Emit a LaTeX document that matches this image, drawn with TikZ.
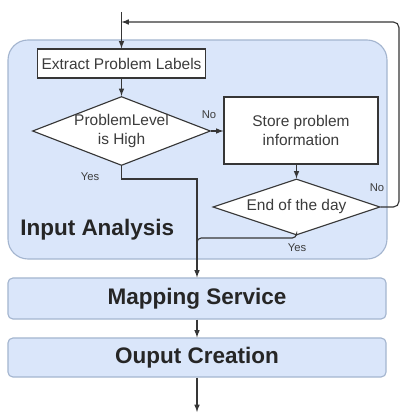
\documentclass[tikz,border=0pt]{standalone}
\usepackage{fontspec}
\setmainfont{Liberation Sans}
\usepackage{tikz}
\usetikzlibrary{shapes.geometric}
\definecolor{regionfill}{HTML}{DAE6FA}
\definecolor{regionline}{HTML}{A4B5CF}
\definecolor{flowline}{HTML}{363636}
\definecolor{flowtext}{HTML}{3C3C3C}
\tikzset{
  >=latex,
  procbox/.style={draw=flowline,fill=white,line width=0.8pt,inner sep=0pt,font=\fontsize{11}{13.5}\selectfont,text=flowtext,align=center},
  decision/.style={diamond,draw=flowline,fill=white,line width=0.8pt,inner sep=-3pt,font=\fontsize{11}{13.5}\selectfont,text=flowtext,align=center},
  stage/.style={draw=regionline,fill=regionfill,line width=0.8pt,rounded corners=3.5pt,minimum width=9.45cm,font=\fontsize{16}{19}\selectfont\bfseries,text=black!85},
  answer/.style={font=\fontsize{8}{9}\selectfont,text=flowtext},
  flow/.style={draw=flowline,line width=0.8pt},
}

\begin{document}
\begin{tikzpicture}[x=0.025cm,y=-0.025cm]
\useasboundingbox (0,0) rectangle (401,413);
\path[draw=regionline,fill=regionfill,line width=0.8pt,rounded corners=0.5cm] (8,40) rectangle (387,259);
\path (20,230) node[anchor=west,inner sep=0pt,font=\fontsize{16}{19}\selectfont\bfseries,text=black!85] (region) {Input Analysis};

\path (121.5,63.5) node[procbox,minimum width=4.2cm,minimum height=0.725cm] (extract) {Extract Problem Labels};
\path (121.5,131) node[decision,shape aspect=2.6,minimum width=4.45cm,minimum height=1.725cm] (level) {ProblemLevel\\is High};
\path (301,130.5) node[procbox,minimum width=3.85cm,minimum height=1.675cm] (store) {Store problem\\information};
\path (296.5,207) node[decision,shape aspect=3,minimum width=4.175cm,minimum height=1.4cm] (endday) {End of the day};
\path (197,298.5) node[stage,minimum height=1.025cm] (mapping) {Mapping Service};
\path (197,357.5) node[stage,minimum height=0.975cm] (output) {Ouput Creation};

\path (209,115) node[answer] (levelno) {No};
\path (90,177) node[answer] (levelyes) {Yes};
\path (377,188) node[answer] (enddayno) {No};
\path (297,248) node[answer] (enddayyes) {Yes};

\coordinate (entry) at (121.5,12);
\coordinate (loop) at (121.5,22);
\coordinate (merge) at (197,179);
\coordinate (join) at (197,238);
\coordinate (exit) at (197,412);

\draw[flow,->] (entry) -- (extract.north);
\draw[flow,->,rounded corners=4pt] (endday.east) -- (399,207) -- (399,22) -- (loop);
\draw[flow,->] (extract.south) -- (level.north);
\draw[flow,->] (level.east) -- (level.east -| store.west);
\draw[flow,->] (level.south) |- (merge) -- (mapping.north);
\draw[flow,->] (store.south -| endday.north) -- (endday.north);
\draw[flow,rounded corners=3pt] (endday.south) |- (join) -- ++(0,12);
\draw[flow,->] (mapping.south) -- (output.north);
\draw[flow,->] (output.south) -- (exit);
\end{tikzpicture}
\end{document}
